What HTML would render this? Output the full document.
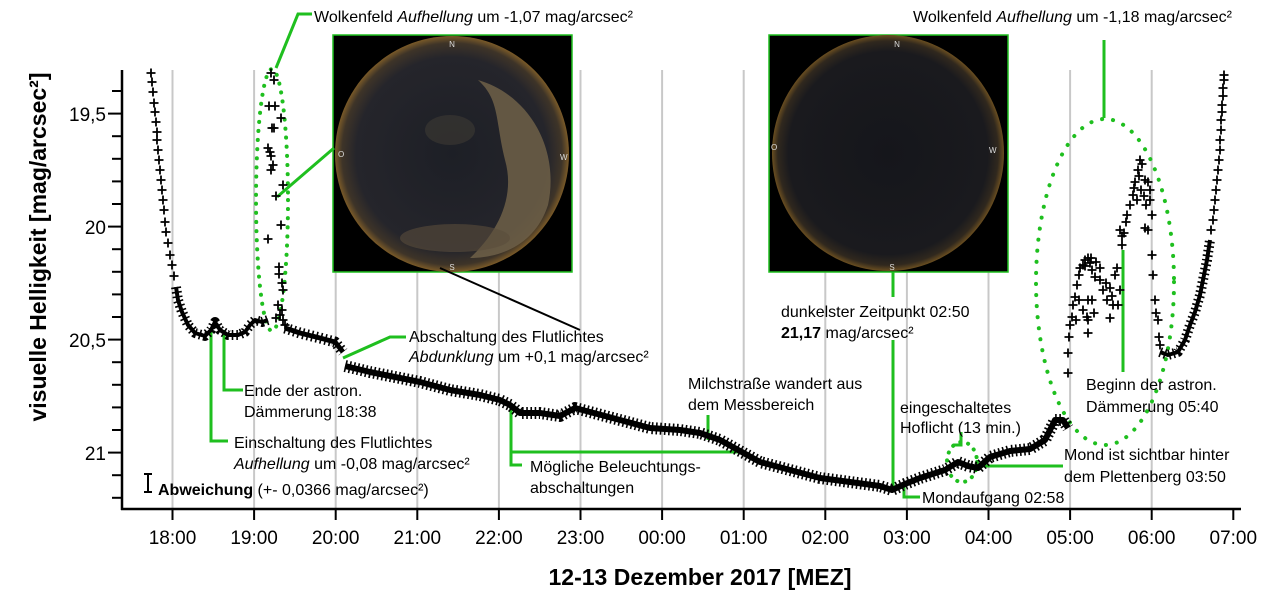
<!DOCTYPE html>
<html><head><meta charset="utf-8">
<style>
html,body{margin:0;padding:0;background:#fff;}
svg{display:block;font-family:"Liberation Sans",Arial,sans-serif;}
</style></head>
<body>
<svg width="1280" height="609" viewBox="0 0 1280 609" xmlns="http://www.w3.org/2000/svg">
<defs>
<radialGradient id="skyL" cx="0.5" cy="0.5" r="0.5">
<stop offset="0" stop-color="#1d1f26"/><stop offset="0.82" stop-color="#25252b"/><stop offset="0.94" stop-color="#3e3428"/><stop offset="1" stop-color="#7a5a28"/>
</radialGradient>
<radialGradient id="skyR" cx="0.5" cy="0.5" r="0.5">
<stop offset="0" stop-color="#15161b"/><stop offset="0.86" stop-color="#1a1a1e"/><stop offset="0.95" stop-color="#30281e"/><stop offset="1" stop-color="#6a4e20"/>
</radialGradient>
<marker id="p" viewBox="-5 -5 10 10" markerWidth="10" markerHeight="10" markerUnits="userSpaceOnUse" refX="0" refY="0" overflow="visible">
<path d="M-4.5 0H4.5M0 -4.5V4.5" stroke="#000" stroke-width="1.8" fill="none"/>
</marker>
</defs>
<g stroke="#c8c8c8" stroke-width="2">
<line x1="172.5" y1="70" x2="172.5" y2="508"/><line x1="254.1" y1="70" x2="254.1" y2="508"/><line x1="335.7" y1="70" x2="335.7" y2="508"/><line x1="417.3" y1="70" x2="417.3" y2="508"/><line x1="498.9" y1="70" x2="498.9" y2="508"/><line x1="580.5" y1="70" x2="580.5" y2="508"/><line x1="662.1" y1="70" x2="662.1" y2="508"/><line x1="743.7" y1="70" x2="743.7" y2="508"/><line x1="825.3" y1="70" x2="825.3" y2="508"/><line x1="906.9" y1="70" x2="906.9" y2="508"/><line x1="988.5" y1="70" x2="988.5" y2="508"/><line x1="1070.1" y1="70" x2="1070.1" y2="508"/><line x1="1151.7" y1="70" x2="1151.7" y2="508"/>
</g>
<!-- photos -->
<rect x="333" y="35" width="239" height="237" fill="#000" stroke="#1fbf1f" stroke-width="1.5"/>
<ellipse cx="452" cy="154" rx="117" ry="118" fill="url(#skyL)"/>
<path d="M478 80 C530 95 560 150 548 205 C535 245 500 258 470 258 C500 230 515 195 505 160 C495 120 500 100 478 80Z" fill="#6f6048" opacity="0.85"/>
<ellipse cx="455" cy="238" rx="55" ry="14" fill="#5a4d3c" opacity="0.6"/>
<ellipse cx="450" cy="130" rx="25" ry="15" fill="#3e3a34" opacity="0.6"/>
<text x="452" y="47" font-size="8" fill="#ddd" text-anchor="middle">N</text>
<text x="338" y="157" font-size="8" fill="#ddd">O</text>
<text x="560" y="160" font-size="8" fill="#ddd">W</text>
<text x="452" y="270" font-size="8" fill="#ddd" text-anchor="middle">S</text>
<rect x="769" y="35" width="239" height="237" fill="#000" stroke="#1fbf1f" stroke-width="1.5"/>
<ellipse cx="888" cy="153" rx="116" ry="118" fill="url(#skyR)"/>
<text x="897" y="47" font-size="8" fill="#ddd" text-anchor="middle">N</text>
<text x="771" y="150" font-size="8" fill="#ddd">O</text>
<text x="989" y="153" font-size="8" fill="#ddd">W</text>
<text x="892" y="270" font-size="8" fill="#ddd" text-anchor="middle">S</text>
<!-- axes -->
<g stroke="#000" stroke-width="2.5" fill="none">
<line x1="122" y1="70" x2="122" y2="510"/>
<line x1="121" y1="509" x2="1241" y2="509"/>
</g>
<g stroke="#000" stroke-width="2">
<line x1="172.5" y1="509" x2="172.5" y2="520"/><line x1="254.1" y1="509" x2="254.1" y2="520"/><line x1="335.7" y1="509" x2="335.7" y2="520"/><line x1="417.3" y1="509" x2="417.3" y2="520"/><line x1="498.9" y1="509" x2="498.9" y2="520"/><line x1="580.5" y1="509" x2="580.5" y2="520"/><line x1="662.1" y1="509" x2="662.1" y2="520"/><line x1="743.7" y1="509" x2="743.7" y2="520"/><line x1="825.3" y1="509" x2="825.3" y2="520"/><line x1="906.9" y1="509" x2="906.9" y2="520"/><line x1="988.5" y1="509" x2="988.5" y2="520"/><line x1="1070.1" y1="509" x2="1070.1" y2="520"/><line x1="1151.7" y1="509" x2="1151.7" y2="520"/><line x1="1233.3" y1="509" x2="1233.3" y2="520"/>
<line x1="112" y1="91" x2="122" y2="91"/><line x1="108" y1="113.6" x2="122" y2="113.6"/><line x1="112" y1="136.2" x2="122" y2="136.2"/><line x1="112" y1="158.8" x2="122" y2="158.8"/><line x1="112" y1="181.4" x2="122" y2="181.4"/><line x1="112" y1="204" x2="122" y2="204"/><line x1="108" y1="226.6" x2="122" y2="226.6"/><line x1="112" y1="249.2" x2="122" y2="249.2"/><line x1="112" y1="271.8" x2="122" y2="271.8"/><line x1="112" y1="294.4" x2="122" y2="294.4"/><line x1="112" y1="317" x2="122" y2="317"/><line x1="108" y1="339.6" x2="122" y2="339.6"/><line x1="112" y1="362.2" x2="122" y2="362.2"/><line x1="112" y1="384.8" x2="122" y2="384.8"/><line x1="112" y1="407.4" x2="122" y2="407.4"/><line x1="112" y1="430" x2="122" y2="430"/><line x1="108" y1="452.6" x2="122" y2="452.6"/><line x1="112" y1="475.2" x2="122" y2="475.2"/><line x1="112" y1="497.8" x2="122" y2="497.8"/>
</g>
<g font-size="19" fill="#000" text-anchor="end">
<text x="106" y="121">19,5</text>
<text x="106" y="234">20</text>
<text x="106" y="347">20,5</text>
<text x="106" y="460">21</text>
</g>
<g font-size="19" fill="#000" text-anchor="middle">
<text x="172.5" y="544">18:00</text><text x="254.1" y="544">19:00</text><text x="335.7" y="544">20:00</text><text x="417.3" y="544">21:00</text><text x="498.9" y="544">22:00</text><text x="580.5" y="544">23:00</text><text x="662.1" y="544">00:00</text><text x="743.7" y="544">01:00</text><text x="825.3" y="544">02:00</text><text x="906.9" y="544">03:00</text><text x="988.5" y="544">04:00</text><text x="1070.1" y="544">05:00</text><text x="1151.7" y="544">06:00</text><text x="1233.3" y="544">07:00</text>
</g>
<text transform="translate(46,247) rotate(-90)" font-size="23" font-weight="bold" text-anchor="middle">visuelle Helligkeit [mag/arcsec²]</text>
<text x="700" y="585" font-size="23" font-weight="bold" text-anchor="middle">12-13 Dezember 2017 [MEZ]</text>
<!-- green annotations -->
<g stroke="#1fbf1f" stroke-width="3" fill="none">
<polyline points="312,14 298,14 276,68"/>
<ellipse cx="272" cy="200" rx="16" ry="131" stroke-dasharray="0.1 9" stroke-linecap="round" stroke-width="4"/>
<line x1="334" y1="148" x2="277" y2="197"/>
<polyline points="406,337 390,337 343,358"/>
<polyline points="224,330 224,390 243,390"/>
<polyline points="211,328 211,441 228,441"/>
<polyline points="511,403 511,465 522,465"/>
<line x1="511" y1="452" x2="740" y2="452"/>
<line x1="708" y1="415" x2="708" y2="440"/>
<line x1="893" y1="272" x2="893" y2="297"/>
<line x1="893" y1="340" x2="893" y2="492"/>
<polyline points="904,484 904,497 920,497"/>
<polyline points="961,432 961,445 953,445"/>
<ellipse cx="962" cy="462" rx="15" ry="20" stroke-dasharray="0.1 8" stroke-linecap="round" stroke-width="4"/>
<line x1="978" y1="466" x2="1063" y2="466"/>
<ellipse cx="1105" cy="282" rx="69" ry="163" stroke-dasharray="0.1 11" stroke-linecap="round" stroke-width="4"/>
<line x1="1104" y1="40" x2="1104" y2="118"/>
<line x1="1123" y1="250" x2="1123" y2="372"/>
</g>
<line x1="440" y1="268" x2="580" y2="330" stroke="#000" stroke-width="2"/>
<g stroke="#000" stroke-width="2"><line x1="148" y1="474" x2="148" y2="492"/><line x1="144" y1="474" x2="152" y2="474"/><line x1="144" y1="492" x2="152" y2="492"/></g>
<g font-size="16" fill="#000">
<text x="314" y="22">Wolkenfeld <tspan font-style="italic">Aufhellung</tspan> um -1,07 mag/arcsec²</text>
<text x="913" y="22">Wolkenfeld <tspan font-style="italic">Aufhellung</tspan> um -1,18 mag/arcsec²</text>
<text x="409" y="342">Abschaltung des Flutlichtes</text>
<text x="409" y="362"><tspan font-style="italic">Abdunklung</tspan> um +0,1 mag/arcsec²</text>
<text x="244" y="396">Ende der astron.</text>
<text x="244" y="417">Dämmerung 18:38</text>
<text x="234" y="448">Einschaltung des Flutlichtes</text>
<text x="234" y="469"><tspan font-style="italic">Aufhellung</tspan> um -0,08 mag/arcsec²</text>
<text x="158" y="495"><tspan font-weight="bold">Abweichung</tspan> (+- 0,0366 mag/arcsec²)</text>
<text x="530" y="472">Mögliche Beleuchtungs-</text>
<text x="530" y="493">abschaltungen</text>
<text x="688" y="389">Milchstraße wandert aus</text>
<text x="688" y="410">dem Messbereich</text>
<text x="781" y="317">dunkelster Zeitpunkt 02:50</text>
<text x="781" y="338"><tspan font-weight="bold">21,17</tspan> mag/arcsec²</text>
<text x="922" y="503">Mondaufgang 02:58</text>
<text x="900" y="413">eingeschaltetes</text>
<text x="900" y="433">Hoflicht (13 min.)</text>
<text x="1064" y="460">Mond ist sichtbar hinter</text>
<text x="1064" y="482">dem Plettenberg 03:50</text>
<text x="1086" y="390">Beginn der astron.</text>
<text x="1086" y="412">Dämmerung 05:40</text>
</g>
<!-- data: dense bands -->
<g fill="none" stroke="#000" stroke-linejoin="round" stroke-linecap="butt">
<polyline stroke-width="4" points="176,287 178,300 182,312 188,325 195,333 205,336 211,330 215,322 220,330 228,335 238,335 245,332 250,325 255,320 262,322 268,320"/>
<polyline stroke-width="10" stroke-dasharray="1.6 3" points="176,287 178,300 182,312 188,325 195,333 205,336 211,330 215,322 220,330 228,335 238,335 245,332 250,325 255,320 262,322 268,320"/>
<polyline stroke-width="5" points="285,328 300,333 320,338 335,342 343,352"/>
<polyline stroke-width="11" stroke-dasharray="1.6 3" points="285,328 300,333 320,338 335,342 343,352"/>
<polyline stroke-width="6" points="345,366 370,372 400,378 420,382 450,390 480,395 500,400 510,405 520,413 540,413 560,416 575,408 590,412 620,420 650,428 680,430 700,433 720,440 740,451 760,462 790,470 820,478 850,482 880,486 892,490 905,484 920,478 945,470 958,462 968,466 978,468 990,457 1010,451 1030,449 1045,440 1055,420 1063,420 1068,428"/>
<polyline stroke-width="12" stroke-dasharray="1.6 2.6" points="345,366 370,372 400,378 420,382 450,390 480,395 500,400 510,405 520,413 540,413 560,416 575,408 590,412 620,420 650,428 680,430 700,433 720,440 740,451 760,462 790,470 820,478 850,482 880,486 892,490 905,484 920,478 945,470 958,462 968,466 978,468 990,457 1010,451 1030,449 1045,440 1055,420 1063,420 1068,428"/>
<polyline stroke-width="4" points="1160,352 1168,355 1178,352 1185,340 1190,325 1195,312 1200,295 1203,280 1207,260 1210,240"/>
<polyline stroke-width="10" stroke-dasharray="1.6 3" points="1160,352 1168,355 1178,352 1185,340 1190,325 1195,312 1200,295 1203,280 1207,260 1210,240"/>
</g>
<!-- data: sparse crosses -->
<polyline fill="none" stroke="none" marker-start="url(#p)" marker-mid="url(#p)" marker-end="url(#p)" points="151,73 152,82 153,92 154,103 155,112 156,122 157,132 157,140 158,150 159,160 160,170 161,180 162,190 163,200 164,210 165,222 166,232 168,243 170,255 172,265 174,276"/>
<polyline fill="none" stroke="none" marker-start="url(#p)" marker-mid="url(#p)" marker-end="url(#p)" points="271,73 274,80 269,106 275,106 272,128 274,128 281,118 268,148 270,152 271,156 273,165 271,170 283,185 276,196 281,225 268,239 279,267 279,274 282,283 283,290 278,305 282,310 280,315 285,325 283,320 276,318"/>
<polyline fill="none" stroke="none" marker-start="url(#p)" marker-mid="url(#p)" marker-end="url(#p)" points="1068,373 1068,353 1069,337 1070,325 1072,317 1073,305 1075,297 1077,285 1079,275 1080,268 1083,265 1085,260 1088,258 1090,263 1092,270 1095,277 1100,280 1103,290 1107,300 1110,318 1088,300 1088,320 1088,333 1087,317 1083,310 1110,288 1115,275 1117,268 1120,290 1118,305 1120,230 1122,236 1122,245 1124,233 1127,215 1130,205 1133,195 1135,182 1138,170 1140,160 1142,164 1141,190 1145,180 1148,182 1150,190 1150,200 1152,215 1148,230 1146,205 1145,228 1152,255 1153,275 1155,300 1156,313 1158,320 1159,337 1160,345 1096,262 1100,268 1106,283 1112,296 1113,305 1092,300 1094,313 1079,300 1076,320 1134,188 1137,200 1144,196 1085,266 1091,258 1126,222 1139,176"/>
<polyline fill="none" stroke="none" marker-start="url(#p)" marker-mid="url(#p)" marker-end="url(#p)" points="1211,230 1213,220 1214,210 1215,200 1216,190 1217,180 1218,170 1219,160 1220,150 1220,140 1221,130 1221,120 1222,112 1222,105 1223,96 1223,88 1224,80 1224,75"/>
</svg>
</body></html>
